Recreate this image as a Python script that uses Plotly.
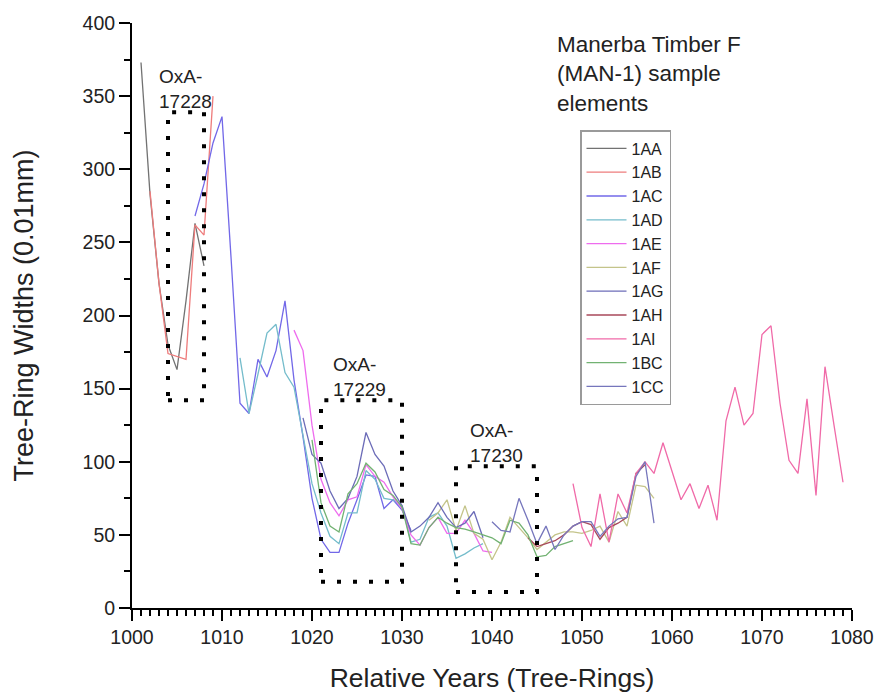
import plotly.graph_objects as go

# ---- data ----
series_names = ["1AA", "1AB", "1AC", "1AD", "1AE", "1AF", "1AG", "1AH", "1AI", "1BC", "1CC"]
start_years = {"1AA": 1001, "1AB": 1002, "1AC": 1007, "1AD": 1012, "1AE": 1018, "1AF": 1033,
               "1AG": 1019, "1AH": 1044, "1AI": 1049, "1BC": 1020, "1CC": 1040}
w_1AA = [373, 283, 222, 180, 163, 210, 263, 234]
w_1AB = [285, 222, 174, 172, 170, 262, 255, 350]
w_1AC = [268, 290, 318, 336, 240, 140, 133, 170, 158, 176, 210, 156, 117, 75, 47, 38, 38, 58,
         74, 91, 90, 68, 74, 67, 53]
w_1AD = [171, 133, 160, 188, 194, 161, 151, 117, 85, 65, 49, 44, 65, 65, 94, 88, 75, 74, 70,
         45, 47, 62, 65, 56, 34, 37, 41, 44]
w_1AE = [190, 176, 125, 88, 72, 63, 74, 76, 98, 90, 86, 76, 68, 50, 43, 55, 62, 51, 51, 60,
         51, 39, 38]
w_1AF = [60, 65, 74, 53, 70, 51, 47, 33, 45, 62, 55, 48, 40, 45, 50, 52, 52, 51, 53, 56, 45,
         66, 56, 84, 83, 75]
w_1AG = [130, 105, 99, 80, 68, 75, 90, 120, 105, 97, 80, 70, 52, 56, 62, 72, 62, 55, 58, 66, 48]
w_1AH = [48, 42, 44, 46, 50, 56, 59, 57, 47, 55, 58, 62, 92, 98]
w_1AI = [85, 55, 42, 78, 45, 78, 65, 92, 100, 92, 113, 93, 74, 85, 68, 84, 60, 128, 151, 125,
         133, 187, 193, 140, 101, 92, 143, 77, 165, 125, 86]
w_1BC = [115, 72, 56, 52, 78, 85, 99, 93, 81, 77, 69, 44, 43, 55, 62, 58, 55, 54, 52, 50, 48,
         44, 60, 58, 50, 35, 36, 42, 44, 46]
w_1CC = [59, 53, 52, 75, 60, 44, 56, 40, 50, 56, 59, 59, 49, 56, 61, 62, 90, 100, 58]
widths = {"1AA": w_1AA, "1AB": w_1AB, "1AC": w_1AC, "1AD": w_1AD, "1AE": w_1AE, "1AF": w_1AF,
          "1AG": w_1AG, "1AH": w_1AH, "1AI": w_1AI, "1BC": w_1BC, "1CC": w_1CC}

# OxA sample boxes
box_labels = ["OxA-<br>17228", "OxA-<br>17229", "OxA-<br>17230"]
box_x0 = [1004, 1021, 1036]
box_x1 = [1008, 1030, 1045]
box_y0 = [142, 18, 11]
box_y1 = [339, 142, 97]
label_x = [1002.8, 1022.1, 1037.3]
label_y = [355, 158, 113]

legend_title = "Manerba Timber F<br>(MAN-1) sample<br>elements"

# ---- style ----
colors = {"1AA": "#727272", "1AB": "#ee7c7c", "1AC": "#7268e8", "1AD": "#74bccb",
          "1AE": "#ee6cee", "1AF": "#c4c48a", "1AG": "#6c6cb8", "1AH": "#a8485a",
          "1AI": "#f06aa8", "1BC": "#72b272", "1CC": "#7676bc"}
FONT = "Liberation Sans, Arial, sans-serif"
TXT = "#222222"
L, R, T, B = 132, 27, 23, 86
PW, PH = 879 - L - R, 694 - T - B

fig = go.Figure()
for name in series_names:
    vals = widths[name]
    yrs = [start_years[name] + i for i in range(len(vals))]
    fig.add_trace(go.Scatter(x=yrs, y=vals, mode="lines", name=name,
                             line=dict(color=colors[name], width=1.3)))

for i in range(len(box_labels)):
    fig.add_shape(type="rect", xref="x", yref="y", x0=box_x0[i], x1=box_x1[i],
                  y0=box_y0[i], y1=box_y1[i],
                  line=dict(color="black", width=4, dash="4px,12px"))
    fig.add_annotation(x=label_x[i], y=label_y[i], xref="x", yref="y", text=box_labels[i],
                       showarrow=False, xanchor="left", yanchor="middle", align="left",
                       font=dict(size=19, color=TXT, family=FONT))

fig.add_annotation(xref="paper", yref="paper", x=(555 - L) / PW, y=(608 - 30) / PH,
                   text=legend_title, showarrow=False,
                   xanchor="left", yanchor="top", align="left",
                   font=dict(size=22.5, color=TXT, family=FONT))

axis_common = dict(showgrid=False, zeroline=False, showline=True, linecolor="black",
                   linewidth=2, ticks="outside", ticklen=11, tickwidth=2, tickcolor="black",
                   tickfont=dict(size=19.5, family=FONT, color=TXT), automargin=False,
                   ticklabelstandoff=0)

fig.update_layout(
    width=879, height=694,
    margin=dict(l=L, r=R, t=T, b=B),
    paper_bgcolor="white", plot_bgcolor="white",
    font=dict(family=FONT, color=TXT),
    showlegend=True,
    legend=dict(x=(580 - L) / PW, y=(608 - 130) / PH, xanchor="left", yanchor="top",
                bordercolor="#9a9a9a", borderwidth=1.5, bgcolor="white", itemwidth=40,
                font=dict(size=16, family=FONT, color=TXT)),
    xaxis=dict(range=[1000, 1080], tickmode="linear", tick0=1000, dtick=10,
               minor=dict(dtick=1, ticks="outside", ticklen=6, tickwidth=1.5,
                          tickcolor="black", showgrid=False),
               title=dict(text="Relative Years (Tree-Rings)", standoff=21,
                          font=dict(size=26.5, family=FONT, color=TXT)),
               **axis_common),
    yaxis=dict(range=[0, 400], tickmode="linear", tick0=0, dtick=50,
               minor=dict(dtick=25, ticks="outside", ticklen=6, tickwidth=1.5,
                          tickcolor="black", showgrid=False),
               title=dict(text="Tree-Ring Widths (0.01mm)", standoff=41,
                          font=dict(size=27, family=FONT, color=TXT)),
               **axis_common),
)

fig.write_html("out.html", config={"displayModeBar": False},
               post_script="document.body.style.margin='0px';")
